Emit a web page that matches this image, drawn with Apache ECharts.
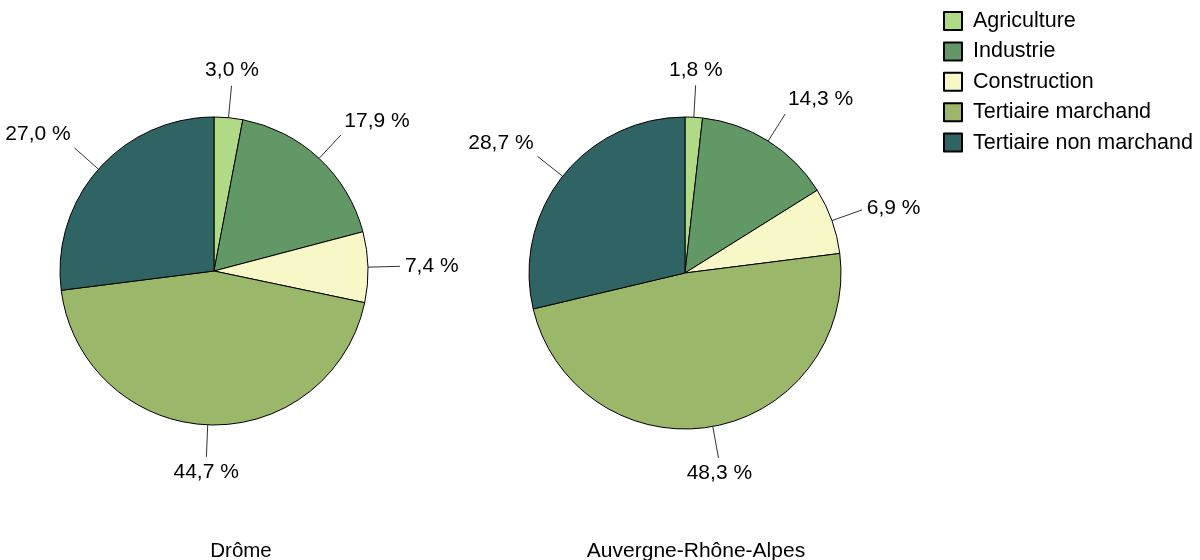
<!DOCTYPE html>
<html>
<head>
<meta charset="utf-8">
<script src="https://cdn.jsdelivr.net/npm/echarts@6/dist/echarts.min.js"></script>
<style>
html,body{margin:0;padding:0;background:#fff;}
#chart{width:1200px;height:560px;}
</style>
</head>
<body>
<div id="chart"></div>
<script>
const categories = ['Agriculture', 'Industrie', 'Construction', 'Tertiaire marchand', 'Tertiaire non marchand'];
const colors = ['#b0da86', '#629865', '#f8f7c8', '#9ab76a', '#306464'];
const dromeValues = [3.0, 17.9, 7.4, 44.7, 27.0];
const auraValues = [1.8, 14.3, 6.9, 48.3, 28.7];
const pieTitles = ['Drôme', 'Auvergne-Rhône-Alpes'];

const FONT = '"Liberation Sans", Arial, sans-serif';
const chart = echarts.init(document.getElementById('chart'), null, {renderer: 'canvas'});

function fmt(v) { return v.toFixed(1).replace('.', ',') + ' %'; }

function labelLayout(params) {
  const pts = params.labelLinePoints;
  if (!pts) return {};
  const p0 = pts[0], p1 = pts[1];
  const dx = p1[0] - p0[0], dy = p1[1] - p0[1];
  const len = Math.hypot(dx, dy) || 1;
  const ux = dx / len, uy = dy / len;
  const gap = 5;
  return {
    x: p1[0] + ux * gap,
    y: p1[1] + uy * gap,
    align: ux > 0.45 ? 'left' : (ux < -0.45 ? 'right' : 'center'),
    verticalAlign: uy > 0.45 ? 'top' : (uy < -0.45 ? 'bottom' : 'middle'),
    labelLinePoints: [p0, p1, p1]
  };
}

function makeSeries(name, values, center, radius) {
  return {
    name: name,
    type: 'pie',
    center: center,
    radius: radius,
    startAngle: 90,
    clockwise: true,
    avoidLabelOverlap: false,
    animation: false,
    silent: true,
    data: categories.map((c, i) => ({name: c, value: values[i], itemStyle: {color: colors[i]}})),
    itemStyle: {borderColor: '#000', borderWidth: 1},
    label: {
      show: true,
      position: 'outside',
      formatter: p => fmt(p.value),
      color: '#000',
      fontSize: 21,
      fontFamily: FONT
    },
    labelLine: {show: true, length: 32, length2: 0, smooth: false, lineStyle: {color: '#333', width: 1}},
    labelLayout: labelLayout,
    emphasis: {disabled: true}
  };
}

chart.setOption({
  backgroundColor: '#fff',
  animation: false,
  color: colors,
  title: [
    {text: pieTitles[0], left: 236, top: 536, textAlign: 'center', textStyle: {fontSize: 20.5, fontWeight: 'normal', color: '#000', fontFamily: FONT}},
    {text: pieTitles[1], left: 691, top: 536, textAlign: 'center', textStyle: {fontSize: 21, fontWeight: 'normal', color: '#000', fontFamily: FONT}}
  ],
  legend: {
    orient: 'vertical',
    left: 943,
    top: 10,
    padding: 0,
    itemWidth: 18,
    itemHeight: 18,
    itemGap: 8.4,
    icon: 'rect',
    selectedMode: false,
    itemStyle: {borderColor: '#000', borderWidth: 2},
    textStyle: {fontSize: 21.5, color: '#000', fontFamily: FONT, padding: [0, 0, 0, 6]},
    data: categories
  },
  series: [
    makeSeries(pieTitles[0], dromeValues, [214, 271], 154),
    makeSeries(pieTitles[1], auraValues, [685, 273], 156)
  ]
});
</script>
</body>
</html>
